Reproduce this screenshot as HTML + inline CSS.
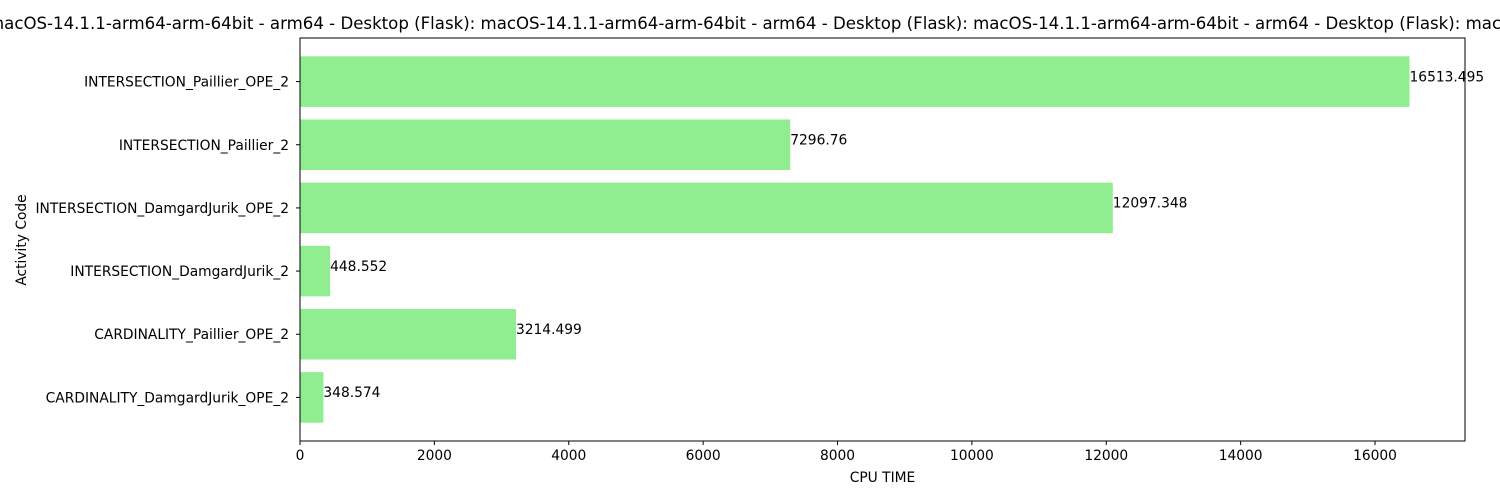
<!DOCTYPE html>
<html><head><meta charset="utf-8"><style>
html,body{margin:0;padding:0;background:#fff;overflow:hidden}
svg{display:block;font-family:"DejaVu Sans","Liberation Sans",sans-serif}
</style></head><body>
<svg id="chart" width="1500" height="500" viewBox="0 0 1500 500">
<text x="-12" y="29" font-size="16.6" fill="#000">macOS-14.1.1-arm64-arm-64bit - arm64 - Desktop (Flask): macOS-14.1.1-arm64-arm-64bit - arm64 - Desktop (Flask): macOS-14.1.1-arm64-arm-64bit - arm64 - Desktop (Flask): macOS-14.1.1-arm64-arm-64bit - arm64 - Desktop (Flask)</text>
<g id="bars"></g>
<g id="xaxis"></g>
<g id="yaxis"></g>
<rect x="300" y="38" width="1165" height="403" fill="none" stroke="#000" stroke-width="1"/>
<text x="882.5" y="482" font-size="13.8" text-anchor="middle">CPU TIME</text>
<text x="26" y="240" font-size="13.8" text-anchor="middle" transform="rotate(-90 26 240)">Activity Code</text>
</svg>
<script>
const categories = ["CARDINALITY_DamgardJurik_OPE_2","CARDINALITY_Paillier_OPE_2","INTERSECTION_DamgardJurik_2","INTERSECTION_DamgardJurik_OPE_2","INTERSECTION_Paillier_2","INTERSECTION_Paillier_OPE_2"];
const values = [348.574, 3214.499, 448.552, 12097.348, 7296.76, 16513.495];
const valueLabels = ["348.574","3214.499","448.552","12097.348","7296.76","16513.495"];
const xTicks = [0,2000,4000,6000,8000,10000,12000,14000,16000];

const NS="http://www.w3.org/2000/svg";
const L=300,R=1465,T=38,B=441,FS=13.8;
const xMax=Math.max(...values)*1.05;
const x=v=>L+(v/xMax)*(R-L);
const yMin=-0.69,yMax=categories.length-1+0.69;
const y=v=>B-(v-yMin)/(yMax-yMin)*(B-T);
function mk(tag,attrs,parent){const e=document.createElementNS(NS,tag);for(const k in attrs)e.setAttribute(k,attrs[k]);parent.appendChild(e);return e;}
const bars=document.getElementById('bars'),xa=document.getElementById('xaxis'),ya=document.getElementById('yaxis');
categories.forEach((c,i)=>{
  const top=y(i+0.4),bot=y(i-0.4);
  const r=mk('rect',{x:L,y:top,width:x(values[i])-L,height:bot-top,fill:'#90ee90'},bars);
  
  
  const t=mk('text',{x:x(values[i]),y:top+25,'font-size':FS},bars);
  t.textContent=valueLabels[i];
  
  
  const tk=mk('line',{x1:L-4,x2:L,y1:y(i),y2:y(i),stroke:'#000'},ya);
  
  
  const tl=mk('text',{x:L-11,y:y(i)+5,'font-size':FS,'text-anchor':'end'},ya);
  tl.textContent=c;
  
  
});
xTicks.forEach(v=>{
  const tk=mk('line',{x1:x(v),x2:x(v),y1:B,y2:B+4,stroke:'#000'},xa);
  
  
  const tl=mk('text',{x:x(v),y:B+19,'font-size':FS,'text-anchor':'middle'},xa);
  tl.textContent=String(v);
  
  
});
</script>
</body></html>
